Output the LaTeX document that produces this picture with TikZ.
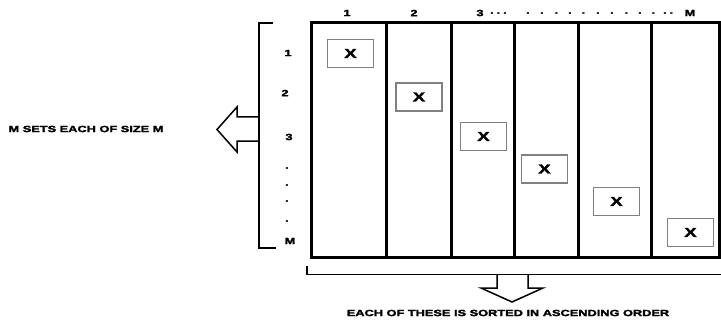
\documentclass[tikz,border=0pt]{standalone}
\usepackage{fontspec}
\newfontfamily\lbl{Liberation Sans Bold}[FakeStretch=1.42,FakeBold=2.5]
\tikzset{
  txt/.style={inner sep=0pt, font=\lbl\fontsize{9}{10}\selectfont},
  xbox/.style={draw=black!50, line width=1.1pt, minimum width=46pt, minimum height=28pt, inner sep=0pt, font=\lbl\fontsize{13}{14}\selectfont},
  thick line/.style={line width=3pt},
  thin line/.style={line width=1.4pt},
  arrowshape/.style={line width=1.5pt, line join=miter}
}
\begin{document}
\begin{tikzpicture}[x=1pt,y=-1pt]
\useasboundingbox (0,0) rectangle (721,321);
% main grid
\draw[thick line] (311,23) rectangle (719.5,257);
\foreach \i/\xx in {1/386,2/451,3/514,4/578,5/651}
  \draw[thick line] (\xx,23) -- (\xx,257);
% column labels
\node[txt] (c1) at (347,13) {1};
\node[txt] (c2) at (414,13) {2};
\node[txt] (c3) at (480,13) {3};
\foreach \i/\xx in {1/492,2/498.5,3/505,4/528,5/542,6/556.5,7/570,8/583.5,9/598,10/612,11/626.5,12/640,13/653.5,14/665,15/671.5}
  \node[txt] (cd\i) at (\xx,13) {.};
\node[txt] (cm) at (690,13) {M};
% row labels
\node[txt] (r1) at (288,53) {1};
\node[txt] (r2) at (285,93) {2};
\node[txt] (r3) at (289,137) {3};
\foreach \i/\yy in {1/168,2/185,3/201,4/221}
  \node[txt] (rd\i) at (287,\yy) {.};
\node[txt] (rm) at (290,241) {M};
% boxes
\node[xbox] (b1) at (350.5,53.5) {X};
\node[xbox] (b2) at (419,97) {X};
\node[xbox] (b3) at (483.5,136.5) {X};
\node[xbox] (b4) at (544.5,169) {X};
\node[xbox] (b5) at (616.5,201.5) {X};
\node[xbox] (b6) at (690.5,232.5) {X};
% left arrow
\draw[arrowshape] (259,117) -- (237,117) -- (237,107) -- (217,129.5) -- (237,152) -- (237,141) -- (259,141);
\node[txt] (lt) at (86,129) {M SETS EACH OF SIZE M};
% down arrow
\draw[arrowshape] (497,274.5) -- (497,288) -- (481,288) -- (512,302) -- (543,288) -- (528,288) -- (528,274.5);
\node[txt] (bt) at (508,313) {EACH OF THESE IS SORTED IN ASCENDING ORDER};
% left bracket
\draw[thin line] (273,23) -- (259,23) -- (259,248) -- (276,248);
% bottom bracket
\draw[thin line] (307,266) -- (307,274.5) -- (721,274.5);
\end{tikzpicture}
\end{document}
